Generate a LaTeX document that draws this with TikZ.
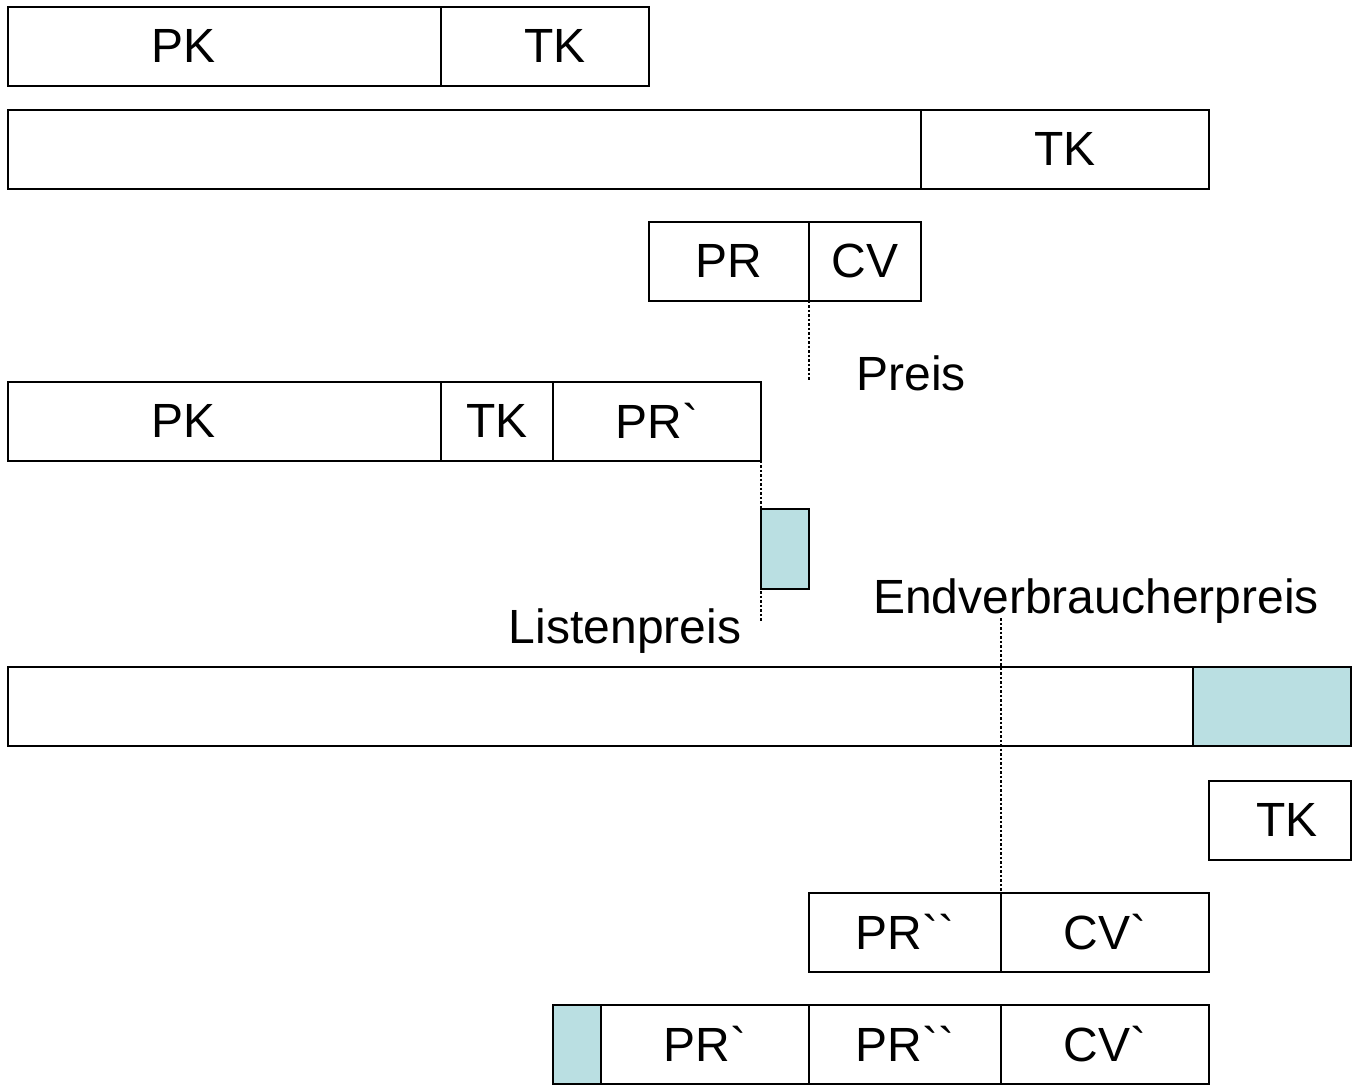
\documentclass[tikz,border=0pt]{standalone}
\usepackage{fontspec}
\newfontfamily\boxfont{Liberation Sans}
\usetikzlibrary{positioning}
\definecolor{lightteal}{RGB}{186,223,226}
\tikzset{
    seg/.style={draw, line width=2pt, minimum height=79pt, inner sep=0pt, outer sep=0pt, anchor=west},
    hi/.style={seg, fill=lightteal},
    tag/.style={anchor=base, inner sep=0pt},
    guide/.style={line width=2.5pt, dash pattern=on 2.5pt off 2pt}
}

\begin{document}
\begin{tikzpicture}[x=1pt, y=-1pt, node distance=0pt, font=\boxfont\fontsize{48}{56}\selectfont]
    \useasboundingbox (0,0) rectangle (1353,1085);
    % row 1
    \node[seg, minimum width=433pt, label={[xshift=-41pt]center:PK}] (pk1) at (8,46) {};
    \node[seg, minimum width=208pt, right=of pk1, label={[xshift=10pt]center:TK}] (tk1) {};
    % row 2
    \node[seg, minimum width=913pt] (bar2) at (8,149) {};
    \node[seg, minimum width=288pt, right=of bar2] (tk2) {TK};
    % row 3
    \node[seg, minimum width=160pt] (pr3) at (649,261) {PR};
    \node[seg, minimum width=112pt, right=of pr3] (cv3) {CV};
    \node[tag] (preis) at (911,390) {Preis};
    % row 4
    \node[seg, minimum width=433pt, label={[xshift=-41pt]center:PK}] (pk4) at (8,421) {};
    \node[seg, minimum width=112pt, right=of pk4] (tk4) {TK};
    \node[seg, minimum width=208pt, right=of tk4] (prl4) {PR`};
    \node[hi, minimum width=48pt, minimum height=80pt] (list) at (761,549) {};
    \node[tag] (listen) at (625,643) {Listenpreis};
    \node[tag] (endv) at (1096,613) {Endverbraucherpreis};
    % row 6
    \node[seg, minimum width=1185pt] (bar6) at (8,706) {};
    \node[hi, minimum width=158pt, right=of bar6] (end6) {};
    \node[seg, minimum width=142pt, label={[xshift=7pt]center:TK}] (tk7) at (1209,820) {};
    % row 8
    \node[seg, minimum width=192pt] (pr8) at (809,932) {PR``};
    \node[seg, minimum width=208pt, right=of pr8] (cv8) {CV`};
    % row 9
    \node[hi, minimum width=48pt] (end9) at (553,1044) {};
    \node[seg, minimum width=208pt, right=of end9] (prl9) {PR`};
    \node[seg, minimum width=192pt, right=of prl9] (prr9) {PR``};
    \node[seg, minimum width=208pt, right=of prr9] (cv9) {CV`};
    % guides
    \coordinate (g1) at (809,380);
    \coordinate (g2) at (761,622);
    \coordinate (g3) at (1001,618);
    \draw[guide] (pr3.south east) -- (g1);
    \draw[guide] (prl4.south east) -- (g2);
    \draw[guide] (g3) -- (pr8.north east);
\end{tikzpicture}
\end{document}
